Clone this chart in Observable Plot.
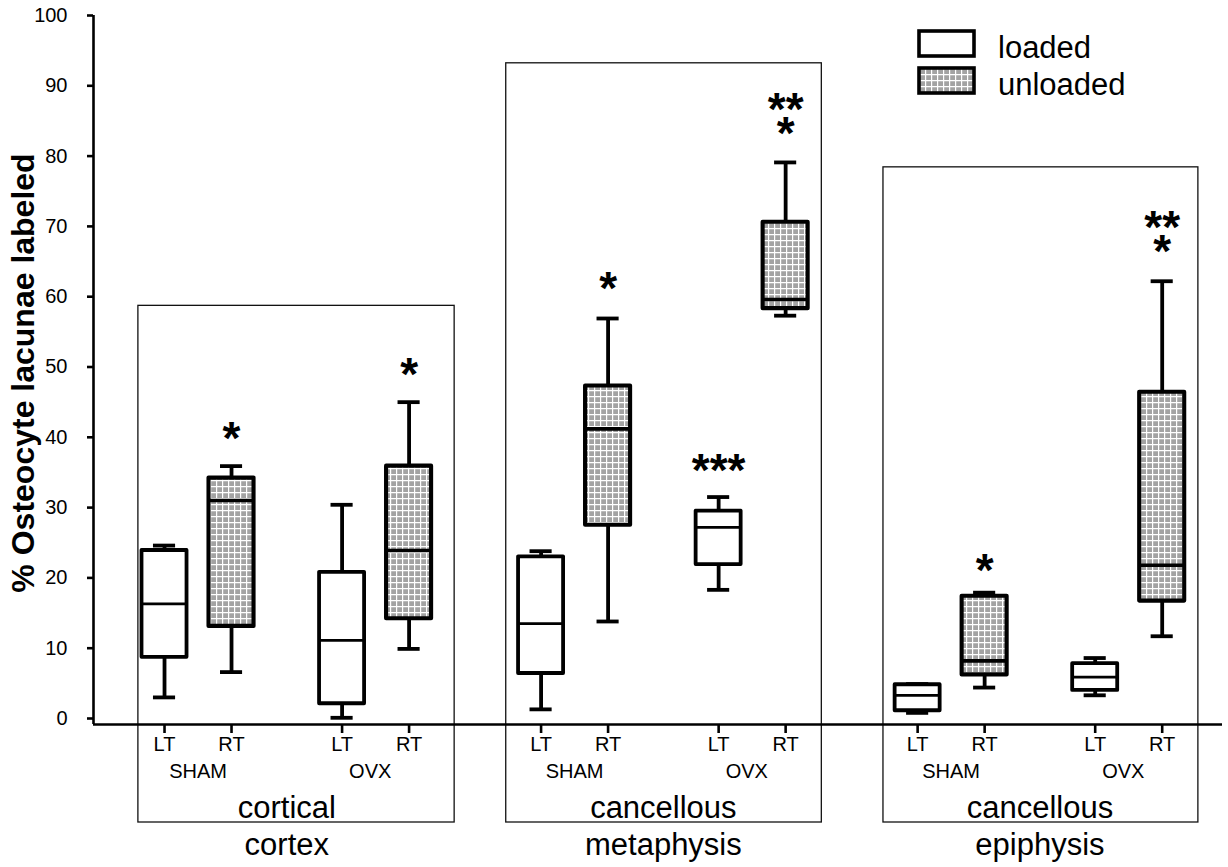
<!DOCTYPE html>
<html>
<head>
<meta charset="utf-8">
<script src="https://cdn.jsdelivr.net/npm/d3@7"></script>
<script src="https://cdn.jsdelivr.net/npm/@observablehq/plot@0.6"></script>
<style>
  html, body { margin: 0; padding: 0; background: white; }
  #wrap { position: relative; width: 1228px; height: 867px; }
  #legend { position: absolute; left: 0; top: 0; pointer-events: none; }
</style>
</head>
<body>
<div id="wrap"></div>
<script>
// ---------- data ----------
const regionTitles = ["cortical", "cancellous", "cancellous"];
const regionNames = ["cortex", "metaphysis", "epiphysis"];
const sides = ["LT", "RT", "LT", "RT"];
const treatments = ["SHAM", "SHAM", "OVX", "OVX"];
const loadStates = ["loaded", "unloaded", "loaded", "unloaded"];

const whiskerLow  = [[3.0, 6.6, 0.1, 9.9], [1.3, 13.8, 18.3, 57.3], [0.8, 4.4, 3.3, 11.7]];
const quartile1   = [[8.7, 13.1, 2.1, 14.2], [6.4, 27.5, 21.9, 58.3], [1.1, 6.2, 4.0, 16.7]];
const medians     = [[16.3, 31.0, 11.1, 23.9], [13.5, 41.2, 27.2, 59.6], [3.3, 8.2, 5.9, 21.8]];
const quartile3   = [[23.9, 34.2, 20.8, 35.9], [23.0, 47.3, 29.5, 70.6], [4.8, 17.4, 7.8, 46.4]];
const whiskerHigh = [[24.6, 35.9, 30.4, 45.0], [23.8, 56.9, 31.5, 79.1], [4.9, 17.9, 8.6, 62.2]];
const significance = [["", "*", "", "*"], ["", "*", "***", "**\n*"], ["", "*", "", "**\n*"]];
const starLevel    = [[null, 41.4, null, 50.5], [null, 62.8, 36.9, 84.8], [null, 22.7, null, 68.0]];
const frameTops = [58.7, 93.2, 78.4];
const yTicks = [0, 10, 20, 30, 40, 50, 60, 70, 80, 90, 100];
const yTitle = "% Osteocyte lacunae labeled";
const legendLabels = ["loaded", "unloaded"];

// ---------- layout ----------
const font = "'Liberation Sans', Arial, Helvetica, sans-serif";
const W = 1228, H = 867, mL = 93, mR = 6, mT = 15, mB = 143;
const groupSpacing = 5.62;
const slotOffsets = [0, 1, 2.65, 3.65];
const frameLeftOff = [-0.39, -0.52, -0.51];
const frameRightOff = [4.33, 4.19, 4.19];
const xDomain = [-1.06, 15.79];
const yDomain = [-0.853, 100];
const pxPerUnit = (H - mB - mT) / (yDomain[1] - yDomain[0]);
const frameBottom = yDomain[0] - 98 / pxPerUnit;
const halfBox = 0.336, halfCap = 0.165;
const lw = 3.8;

const boxes = [];
regionNames.forEach((r, g) => {
  sides.forEach((s, i) => {
    boxes.push({
      region: r, side: s, treatment: treatments[i], load: loadStates[i],
      pos: g * groupSpacing + slotOffsets[i],
      low: whiskerLow[g][i], q1: quartile1[g][i], med: medians[g][i],
      q3: quartile3[g][i], high: whiskerHigh[g][i],
      sig: significance[g][i], sigY: starLevel[g][i]
    });
  });
});
const frames = regionNames.map((r, g) => ({
  region: r, title: regionTitles[g],
  x1: g * groupSpacing + frameLeftOff[g],
  x2: g * groupSpacing + frameRightOff[g],
  top: frameTops[g],
  mid: g * groupSpacing + (slotOffsets[0] + slotOffsets[3]) / 2
}));
const treatLabels = [];
regionNames.forEach((r, g) => {
  treatLabels.push({label: "SHAM", x: g * groupSpacing + (slotOffsets[0] + slotOffsets[1]) / 2});
  treatLabels.push({label: "OVX", x: g * groupSpacing + (slotOffsets[2] + slotOffsets[3]) / 2 - 0.08});
});
const tickLabel = new Map(boxes.map(b => [b.pos, b.side]));
const stars = boxes.filter(b => b.sig);
const loaded = boxes.filter(b => b.load === "loaded");
const unloaded = boxes.filter(b => b.load === "unloaded");

const starSize = 46;

const chart = Plot.plot({
  width: W, height: H,
  marginLeft: mL, marginRight: mR, marginTop: mT, marginBottom: mB,
  x: {type: "linear", domain: xDomain},
  y: {type: "linear", domain: yDomain},
  style: {fontFamily: font, background: "white", overflow: "visible", color: "black"},
  marks: [
    // group frames
    Plot.rect(frames, {x1: "x1", x2: "x2", y1: frameBottom, y2: "top", fill: "none", stroke: "#111", strokeWidth: 1.3}),
    // axes
    Plot.axisY({ticks: yTicks, tickSize: 6, tickPadding: 20, fontSize: 20, strokeWidth: 2.6, label: null, tickFormat: d3.format("d")}),
    Plot.axisX({ticks: boxes.map(b => b.pos), tickSize: 9, tickPadding: 3, fontSize: 20, strokeWidth: 2.6, label: null, tickFormat: d => tickLabel.get(d)}),
    Plot.ruleY([yDomain[0]], {stroke: "black", strokeWidth: 2.6}),
    Plot.ruleX([xDomain[0]], {y1: yDomain[0], y2: 100, stroke: "black", strokeWidth: 2.6}),
    // whiskers
    Plot.ruleX(boxes, {x: "pos", y1: "low", y2: "q1", stroke: "black", strokeWidth: lw}),
    Plot.ruleX(boxes, {x: "pos", y1: "q3", y2: "high", stroke: "black", strokeWidth: lw}),
    Plot.ruleY(boxes, {y: "low", x1: d => d.pos - halfCap, x2: d => d.pos + halfCap, stroke: "black", strokeWidth: lw}),
    Plot.ruleY(boxes, {y: "high", x1: d => d.pos - halfCap, x2: d => d.pos + halfCap, stroke: "black", strokeWidth: lw}),
    // boxes
    Plot.rect(loaded, {x1: d => d.pos - halfBox, x2: d => d.pos + halfBox, y1: "q1", y2: "q3", fill: "white", stroke: "black", strokeWidth: lw, strokeLinejoin: "round"}),
    Plot.rect(unloaded, {x1: d => d.pos - halfBox, x2: d => d.pos + halfBox, y1: "q1", y2: "q3", fill: "url(#gridPat)", stroke: "black", strokeWidth: lw + 0.3, strokeLinejoin: "round"}),
    Plot.ruleY(loaded, {y: "med", x1: d => d.pos - halfBox, x2: d => d.pos + halfBox, stroke: "black", strokeWidth: 2.8}),
    Plot.ruleY(unloaded, {y: "med", x1: d => d.pos - halfBox, x2: d => d.pos + halfBox, stroke: "black", strokeWidth: 3.6}),
    // significance stars
    Plot.text(stars, {x: "pos", y: "sigY", text: "sig", fontSize: starSize, fontWeight: "bold", lineAnchor: "bottom", lineHeight: 0.52, dy: 0.58 * starSize, fill: "black"}),
    // labels below axis
    Plot.text(treatLabels, {x: "x", y: yDomain[0], text: "label", fontSize: 20, lineAnchor: "middle", dy: 47, fill: "black"}),
    Plot.text(frames, {x: "mid", y: yDomain[0], text: "title", fontSize: 31, lineAnchor: "middle", dy: 84, fill: "black"}),
    Plot.text(frames, {x: "mid", y: yDomain[0], text: "region", fontSize: 31, lineAnchor: "middle", dy: 121, fill: "black"}),
    // y title
    Plot.text([yTitle], {frameAnchor: "left", textAnchor: "middle", text: d => d, rotate: -90, fontSize: 32, fontWeight: "bold", dx: -70, dy: 3, lineAnchor: "middle", fill: "black", ariaLabel: "y-title"})
  ]
});

// pattern definition and small style fixes
const svg = d3.select(chart);
const defs = svg.insert("defs", ":first-child");
const pat = defs.append("pattern").attr("id", "gridPat").attr("patternUnits", "userSpaceOnUse").attr("width", 6).attr("height", 6);
pat.append("rect").attr("width", 6).attr("height", 6).attr("fill", "#a3a3a3");
pat.append("path").attr("d", "M0 0.6H6M0.6 0V6").attr("stroke", "white").attr("stroke-width", 1.2);
svg.select('g[aria-label="y-title"]').style("letter-spacing", "0.8px");
svg.selectAll('g[aria-label="y-axis tick label"], g[aria-label="x-axis tick label"]')
  .attr("font-size", 20).style("font-size", "20px");

const wrap = document.getElementById("wrap");
wrap.appendChild(chart);

// legend overlay
const lg = d3.select(wrap).append("svg").attr("id", "legend").attr("width", W).attr("height", 120);
const ldefs = lg.append("defs");
const lpat = ldefs.append("pattern").attr("id", "gridPatL").attr("patternUnits", "userSpaceOnUse").attr("width", 6).attr("height", 6);
lpat.append("rect").attr("width", 6).attr("height", 6).attr("fill", "#a3a3a3");
lpat.append("path").attr("d", "M0 0.6H6M0.6 0V6").attr("stroke", "white").attr("stroke-width", 1.2);
const items = lg.selectAll("g").data(legendLabels).join("g")
  .attr("transform", (d, i) => `translate(919,${31 + i * 37})`);
items.append("rect").attr("width", 55).attr("height", 25)
  .attr("fill", (d, i) => i === 0 ? "white" : "url(#gridPatL)")
  .attr("stroke", "black").attr("stroke-width", 3.6);
items.append("text").attr("x", 79).attr("y", 27).text(d => d)
  .attr("font-family", font).attr("font-size", 31).attr("fill", "black");
</script>
</body>
</html>
